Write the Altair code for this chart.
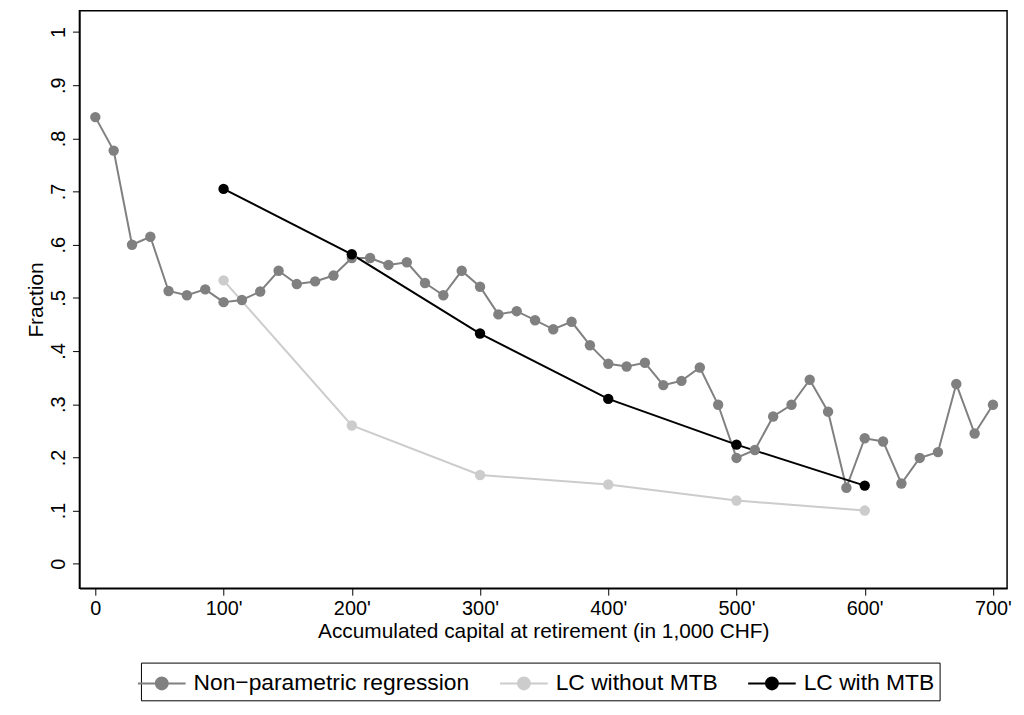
import altair as alt
import pandas as pd

np_x = [0, 14.3, 28.6, 42.9, 57.1, 71.4, 85.7, 100, 114.3, 128.6, 142.9, 157.1, 171.4, 185.7, 200,
        214.3, 228.6, 242.9, 257.1, 271.4, 285.7, 300, 314.3, 328.6, 342.9, 357.1, 371.4, 385.7, 400,
        414.3, 428.6, 442.9, 457.1, 471.4, 485.7, 500, 514.3, 528.6, 542.9, 557.1, 571.4, 585.7, 600,
        614.3, 628.6, 642.9, 657.1, 671.4, 685.7, 700]
np_y = [0.840, 0.777, 0.600, 0.615, 0.513, 0.505, 0.516, 0.492, 0.496, 0.512, 0.551, 0.526, 0.531, 0.542,
        0.575, 0.575, 0.562, 0.567, 0.528, 0.505, 0.551, 0.521, 0.469, 0.475, 0.458, 0.441, 0.455, 0.411,
        0.376, 0.371, 0.378, 0.336, 0.344, 0.369, 0.299, 0.199, 0.214, 0.277, 0.299, 0.346, 0.286, 0.143,
        0.236, 0.230, 0.151, 0.199, 0.210, 0.338, 0.245, 0.299]
lc_x = [100, 200, 300, 400, 500, 600]
lc_without = [0.533, 0.260, 0.167, 0.149, 0.119, 0.100]
lc_with = [0.705, 0.582, 0.433, 0.310, 0.224, 0.147]

names = ["Non\u2212parametric regression", "LC without MTB", "LC with MTB"]
rows = [{"x": a, "y": b, "s": names[0]} for a, b in zip(np_x, np_y)]
rows += [{"x": a, "y": b, "s": names[1]} for a, b in zip(lc_x, lc_without)]
rows += [{"x": a, "y": b, "s": names[2]} for a, b in zip(lc_x, lc_with)]
df = pd.DataFrame(rows)

F = "Liberation Sans"
ax = dict(grid=False, domainColor="black", tickColor="black", labelColor="black", titleColor="black",
          labelFont=F, titleFont=F, labelFontSize=20, titleFontSize=21, titleFontWeight="normal",
          tickSize=7, labelPadding=4, domainWidth=1.5)
cscale = alt.Scale(domain=names, range=["#808080", "#cccccc", "#000000"])
sym = "M-1.6,0L-0.4,0M0.4,0L1.6,0M-0.4,0A0.4,0.4,0,1,1,0.4,0A0.4,0.4,0,1,1,-0.4,0Z"
leg = alt.Legend(title=None, orient="none", legendX=62, legendY=657,
                 direction="horizontal", symbolType=sym, symbolSize=900,
                 symbolStrokeWidth=2, symbolFillColor=None,
                 labelFontSize=23, labelFont=F, labelColor="black", labelOffset=16,
                 strokeColor="black", padding=5, columnPadding=26, labelLimit=400)
color = alt.Color("s:N", scale=cscale, legend=leg)
x = alt.X("x:Q", scale=alt.Scale(domain=[-12.4, 711], nice=False, zero=False),
          axis=alt.Axis(values=[0, 100, 200, 300, 400, 500, 600, 700],
                        labelExpr="datum.value == 0 ? '0' : datum.value + \"'\"",
                        title="Accumulated capital at retirement (in 1,000 CHF)", titlePadding=2, **ax))
y = alt.Y("y:Q", scale=alt.Scale(domain=[-0.046, 1.04], nice=False, zero=False),
          axis=alt.Axis(values=[0, 0.1, 0.2, 0.3, 0.4, 0.5, 0.6, 0.7, 0.8, 0.9, 1],
                        labelExpr="datum.value == 0 ? '0' : datum.value == 1 ? '1' : replace(format(datum.value, '.1f'), '0.', '.')",
                        labelAngle=270, labelAlign="center", labelBaseline="bottom",
                        title="Fraction", titlePadding=2, **ax))
order = alt.Order("x:Q")
base = alt.Chart(df)
lines = base.mark_line(strokeWidth=2).encode(x=x, y=y, color=color, detail="s:N", order=order)
pts = base.mark_circle(size=110, opacity=1).encode(x=x, y=y, color=color)

chart = alt.layer(lines, pts).properties(
    width=935, height=582, autosize=alt.AutoSizeParams(type="none"),
    padding={"left": 72, "top": 0, "right": 9, "bottom": 125}
).configure(background="white").configure_view(stroke="black", strokeWidth=1.5)

chart.save("out.html", embed_options={"renderer": "svg", "actions": False})
